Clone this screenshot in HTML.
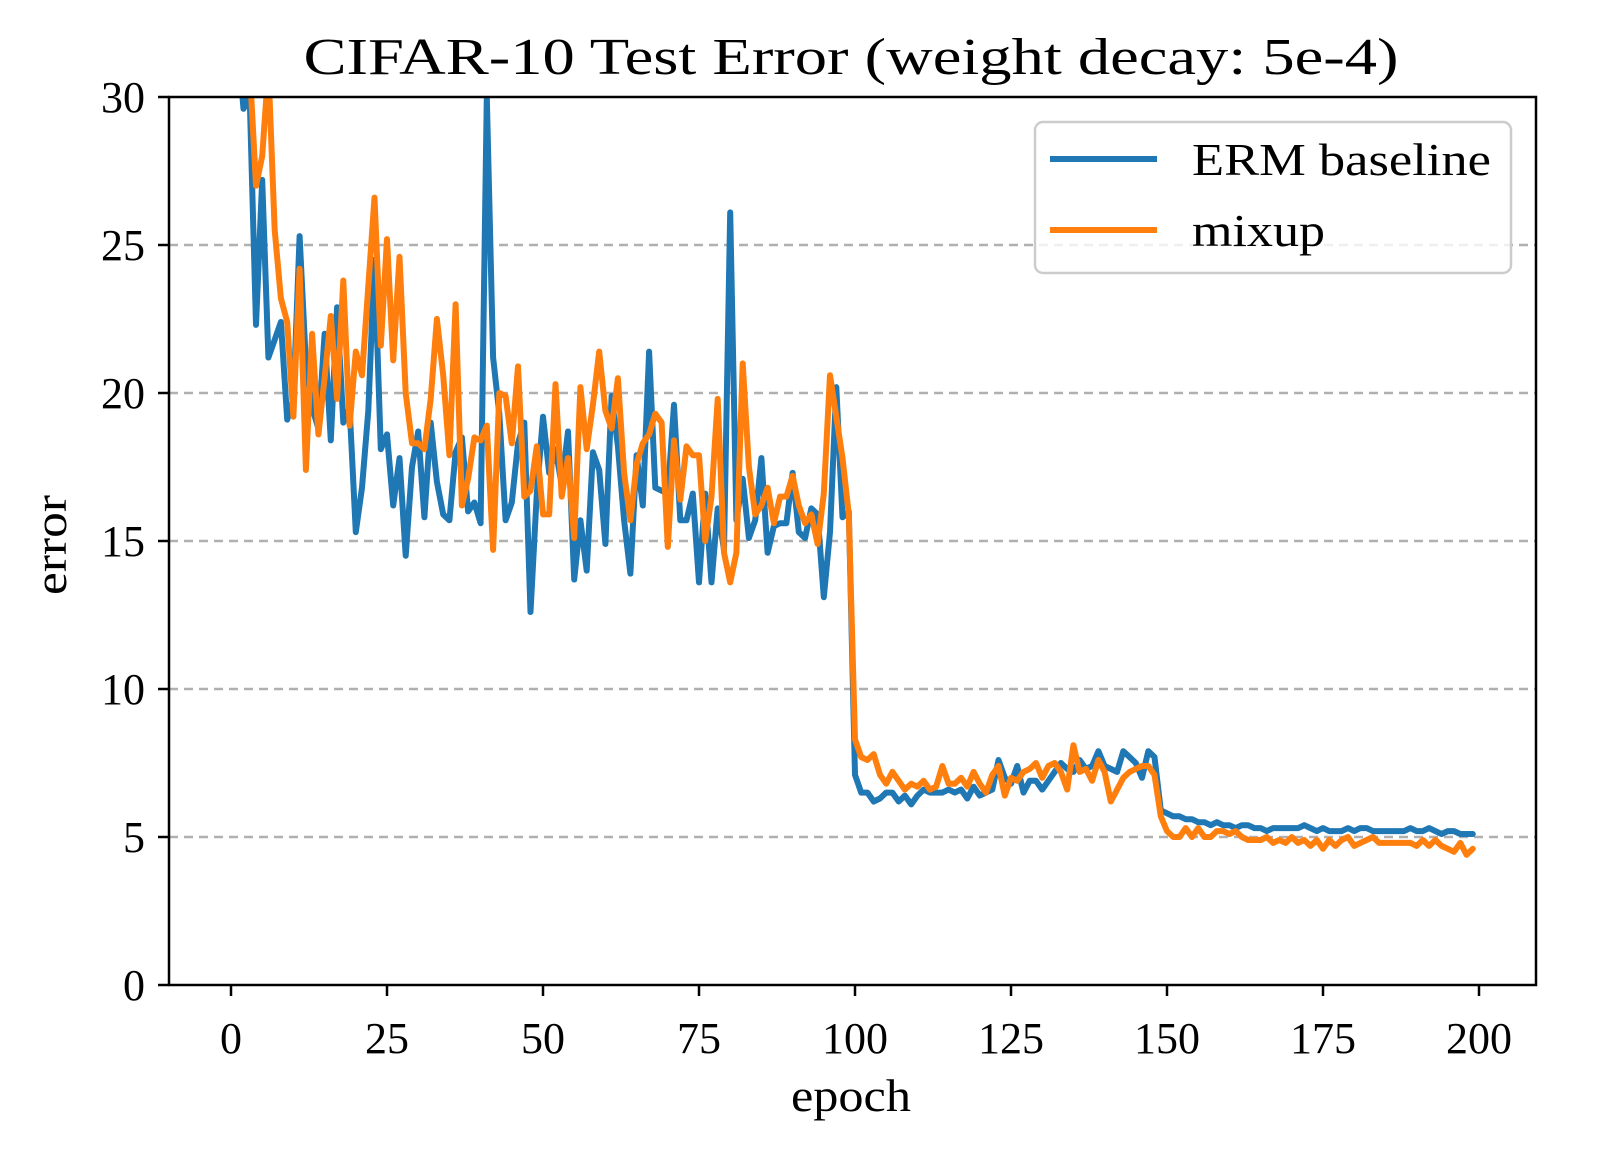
<!DOCTYPE html>
<html><head><meta charset="utf-8">
<style>
html,body{margin:0;padding:0;background:#fff;}
svg{display:block;font-family:"Liberation Serif",serif;}
</style></head>
<body>
<svg id="chart" width="1600" height="1173" viewBox="0 0 1600 1173">
<defs><clipPath id="plotclip"><rect x="169" y="97" width="1367" height="888"/></clipPath></defs>
<g id="grid"></g>
<g id="series" clip-path="url(#plotclip)"></g>
<rect x="169" y="97" width="1367" height="888" fill="none" stroke="#000" stroke-width="2.5"/>
<g id="xticks"></g>
<g id="yticks"></g>
<text x="851" y="74" font-size="52" text-anchor="middle" textLength="1095" lengthAdjust="spacingAndGlyphs">CIFAR-10 Test Error (weight decay: 5e-4)</text>
<text x="851" y="1111" font-size="46" text-anchor="middle" textLength="120" lengthAdjust="spacingAndGlyphs">epoch</text>
<text transform="translate(66,545) rotate(-90)" font-size="46" text-anchor="middle" textLength="100" lengthAdjust="spacingAndGlyphs">error</text>
<g>
<rect x="1035" y="122" width="476" height="151" rx="8" fill="#fff" fill-opacity="0.8" stroke="#ccc" stroke-width="2.5"/>
<g>
<line x1="1050" y1="159" x2="1157" y2="159" stroke="#1f77b4" stroke-width="6"/>
<text x="1192" y="175" font-size="46" textLength="299" lengthAdjust="spacingAndGlyphs">ERM baseline</text>
</g>
<g>
<line x1="1050" y1="230" x2="1157" y2="230" stroke="#ff7f0e" stroke-width="6"/>
<text x="1192" y="246" font-size="46" textLength="133" lengthAdjust="spacingAndGlyphs">mixup</text>
</g>
</g>
</svg>
<script>
const xTicks = [0,25,50,75,100,125,150,175,200];
const yTicks = [0,5,10,15,20,25,30];
const ermValues = [34,32,29.6,30,22.3,27.2,21.2,21.8,22.4,19.1,19.8,25.3,21,19.5,18.8,22,18.4,22.9,19,19.5,
15.3,16.8,19.4,24.5,18.1,18.6,16.2,17.8,14.5,17.5,18.7,15.8,19,17,15.9,15.7,18,18.5,16,16.3,
15.6,30,21.2,19.3,15.7,16.3,18.3,19,12.6,16.6,19.2,17.3,18.1,16.9,18.7,13.7,15.7,14,18,17.4,
14.9,19.9,18.2,15.7,13.9,17.9,16.2,21.4,16.8,16.7,16.6,19.6,15.7,15.7,16.6,13.6,16.6,13.6,16.1,14.7,
26.1,15.7,17.1,15.1,15.7,17.8,14.6,15.5,15.6,15.6,17.3,15.3,15.1,16.1,15.9,13.1,15.3,20.2,15.8,16,
7.1,6.5,6.5,6.2,6.3,6.5,6.5,6.2,6.4,6.1,6.4,6.6,6.5,6.5,6.5,6.6,6.5,6.6,6.3,6.7,
6.4,6.5,6.6,7.6,7,6.8,7.4,6.5,6.9,6.9,6.6,6.9,7.2,7.5,7.3,7.2,7.6,7.3,7.4,7.9,
7.4,7.3,7.2,7.9,7.7,7.5,7.0,7.9,7.7,5.9,5.8,5.7,5.7,5.6,5.6,5.5,5.5,5.4,5.5,5.4,
5.4,5.3,5.4,5.4,5.3,5.3,5.2,5.3,5.3,5.3,5.3,5.3,5.4,5.3,5.2,5.3,5.2,5.2,5.2,5.3,
5.2,5.3,5.3,5.2,5.2,5.2,5.2,5.2,5.2,5.3,5.2,5.2,5.3,5.2,5.1,5.2,5.2,5.1,5.1,5.1];
const mixupValues = [40,36,33,31,27,28,31,25.5,23.2,22.4,19.2,24.2,17.4,22,18.6,20.5,22.6,19.8,23.8,18.9,
21.4,20.6,23.6,26.6,21.6,25.2,21.1,24.6,20,18.3,18.3,18.1,19.8,22.5,20.6,17.9,23,16.2,17.1,18.5,
18.4,18.9,14.7,20.0,19.9,18.3,20.9,16.5,16.7,18.2,15.9,15.9,20.3,16.5,17.8,15.1,20.2,18.1,19.6,21.4,
19.4,18.8,20.5,17.3,15.7,17.6,18.3,18.6,19.3,19.0,14.8,18.4,16.4,18.2,17.9,17.9,15.0,16.5,19.8,14.6,
13.6,14.6,21.0,17.5,15.9,16.2,16.8,15.6,16.5,16.5,17.2,16.2,15.6,15.9,14.9,16.6,20.6,19.2,17.8,15.9,
8.3,7.7,7.6,7.8,7.1,6.8,7.2,6.9,6.6,6.8,6.7,6.9,6.6,6.7,7.4,6.8,6.8,7.0,6.7,7.2,
6.8,6.5,7.1,7.4,6.4,7.0,6.9,7.2,7.3,7.5,7.0,7.4,7.5,7.2,6.6,8.1,7.2,7.3,6.9,7.6,
7.2,6.2,6.6,7.0,7.2,7.3,7.4,7.4,7.1,5.7,5.2,5.0,5.0,5.3,5.0,5.3,5.0,5.0,5.2,5.2,
5.1,5.2,5.0,4.9,4.9,4.9,5.0,4.8,4.9,4.8,5.0,4.8,4.9,4.7,4.9,4.6,4.9,4.7,4.9,5.0,
4.7,4.8,4.9,5.0,4.8,4.8,4.8,4.8,4.8,4.8,4.7,4.9,4.7,4.9,4.7,4.6,4.5,4.8,4.4,4.6];

const NS = 'http://www.w3.org/2000/svg';
const X0 = 231, X1 = 1479, Y0 = 985, Y1 = 97;
function xScale(v){ return X0 + (X1 - X0) * v / 200; }
function yScale(v){ return Y0 - (Y0 - Y1) * v / 30; }

const grid = document.getElementById('grid');
const yt = document.getElementById('yticks');
yTicks.forEach(v => {
  const y = yScale(v);
  if (v > 0 && v < 30) {
    const g = document.createElementNS(NS, 'line');
    g.setAttribute('x1', 169); g.setAttribute('x2', 1536);
    g.setAttribute('y1', y); g.setAttribute('y2', y);
    g.setAttribute('stroke', '#b0b0b0'); g.setAttribute('stroke-width', 2.5);
    g.setAttribute('stroke-dasharray', '9,6');
    
    
    grid.appendChild(g);
  }
  const t = document.createElementNS(NS, 'line');
  t.setAttribute('x1', 158); t.setAttribute('x2', 169);
  t.setAttribute('y1', y); t.setAttribute('y2', y);
  t.setAttribute('stroke', '#000'); t.setAttribute('stroke-width', 2.5);
  
  
  yt.appendChild(t);
  const l = document.createElementNS(NS, 'text');
  l.setAttribute('x', 145); l.setAttribute('y', y + 15);
  l.setAttribute('font-size', 44); l.setAttribute('text-anchor', 'end');
  l.textContent = v;
  
  
  yt.appendChild(l);
});

const xt = document.getElementById('xticks');
xTicks.forEach(v => {
  const x = xScale(v);
  const t = document.createElementNS(NS, 'line');
  t.setAttribute('x1', x); t.setAttribute('x2', x);
  t.setAttribute('y1', 985); t.setAttribute('y2', 996);
  t.setAttribute('stroke', '#000'); t.setAttribute('stroke-width', 2.5);
  
  
  xt.appendChild(t);
  const l = document.createElementNS(NS, 'text');
  l.setAttribute('x', x); l.setAttribute('y', 1053);
  l.setAttribute('font-size', 44); l.setAttribute('text-anchor', 'middle');
  l.textContent = v;
  
  
  xt.appendChild(l);
});

const series = document.getElementById('series');
function drawLine(vals, color, name){
  const pts = vals.map((v, i) => xScale(i).toFixed(1) + ',' + yScale(v).toFixed(1)).join(' ');
  const p = document.createElementNS(NS, 'polyline');
  p.setAttribute('points', pts);
  p.setAttribute('fill', 'none');
  p.setAttribute('stroke', color);
  p.setAttribute('stroke-width', 6);
  p.setAttribute('stroke-linejoin', 'round');
  p.setAttribute('stroke-linecap', 'round');
  
  
  series.appendChild(p);
}
drawLine(ermValues, '#1f77b4', 'erm-baseline-line');
drawLine(mixupValues, '#ff7f0e', 'mixup-line');
</script>
</body></html>
